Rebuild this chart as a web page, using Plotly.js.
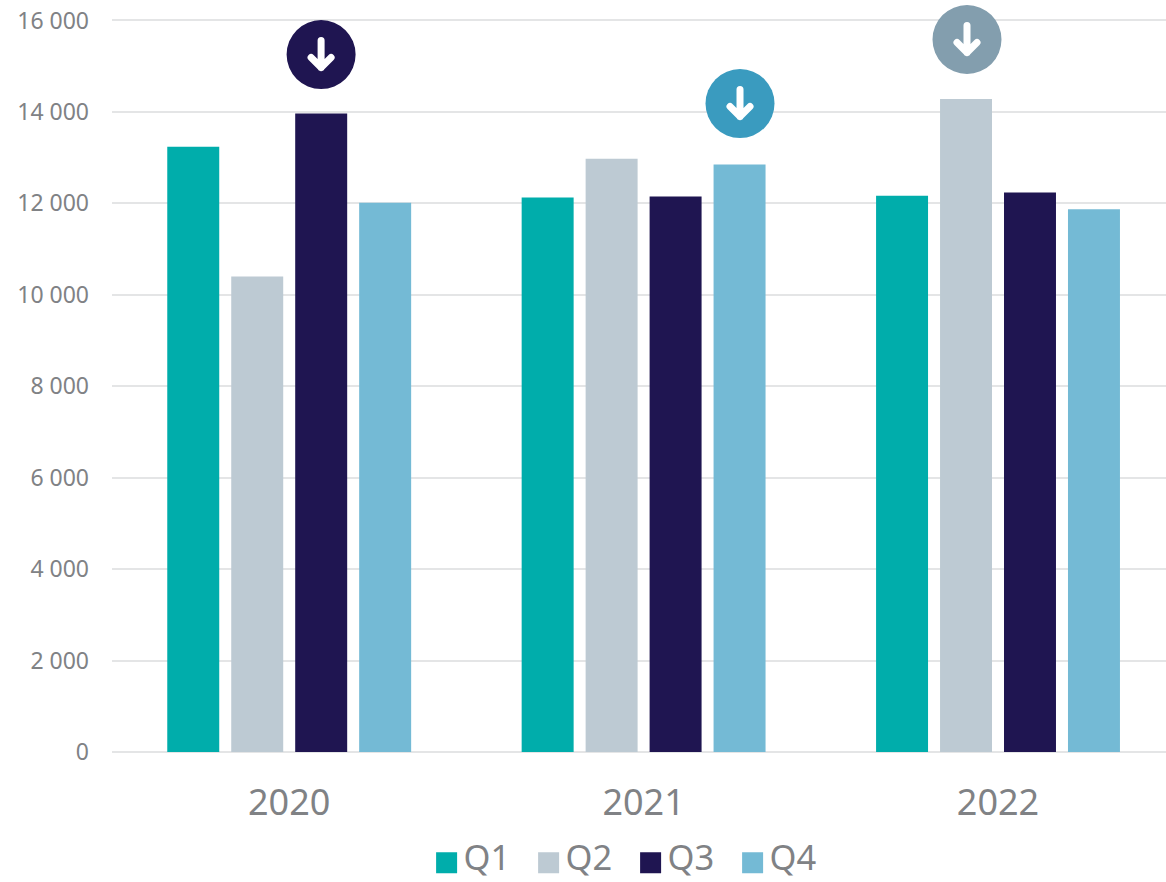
<!DOCTYPE html>
<html>
<head>
<meta charset="utf-8">
<script src="https://cdn.plot.ly/plotly-3.0.1.min.js"></script>
<style>
  html, body { margin: 0; padding: 0; background: #fff; }
  #chart { width: 1166px; height: 882px; }
  .shapelayer path { stroke-linecap: round; stroke-linejoin: round; }
</style>
</head>
<body>
<div id="chart"></div>
<script>
// Quarterly figures per year
const years = ['2020', '2021', '2022'];
const q1 = [13240, 12130, 12165];
const q2 = [10400, 12975, 14285];
const q3 = [13965, 12150, 12235];
const q4 = [12015, 12850, 11870];

const quarterNames = ['Q1', 'Q2', 'Q3', 'Q4'];
const quarterColors = ['#00adab', '#bdcad3', '#1f1551', '#74bad5'];

const yTickVals = [0, 2000, 4000, 6000, 8000, 10000, 12000, 14000, 16000];
const yTickText = ['0', '2 000', '4 000', '6 000', '8 000', '10 000', '12 000', '14 000', '16 000'];

// Down-arrow badges: category position, value position, fill
const badgeX = [0.09, 1.272, 1.9125];
const badgeY = [15255, 14183, 15584];
const badgeColors = ['#1f1551', '#3a9bbf', '#839eae'];

const textColor = '#808285';
const gridColor = '#e4e5e6';
const fontFamily = '"Noto Sans", "Open Sans", sans-serif';

const traces = [q1, q2, q3, q4].map((values, i) => ({
  type: 'bar',
  name: quarterNames[i],
  x: years,
  y: values,
  marker: { color: quarterColors[i] },
  hoverinfo: 'x+y+name'
}));

// Each badge is a circle plus a rounded arrow, anchored in data space and sized in pixels
const shapes = [];
badgeX.forEach((bx, i) => {
  const anchored = {
    xref: 'x', yref: 'y', xsizemode: 'pixel', ysizemode: 'pixel',
    xanchor: bx, yanchor: badgeY[i], layer: 'above'
  };
  shapes.push(Object.assign({}, anchored, {
    type: 'circle', x0: -34.5, x1: 34.5, y0: -34.5, y1: 34.5,
    fillcolor: badgeColors[i], line: { width: 0 }
  }));
  shapes.push(Object.assign({}, anchored, {
    type: 'path', path: 'M0,14 L0,-13 M-10,-3 L0,-13 L10,-3',
    line: { color: '#ffffff', width: 7 }
  }));
});

const layout = {
  width: 1166,
  height: 882,
  margin: { l: 112, r: 0, t: 0, b: 130 },
  paper_bgcolor: '#ffffff',
  plot_bgcolor: '#ffffff',
  font: { family: fontFamily, color: textColor },
  barmode: 'group',
  bargap: 0.278,
  bargroupgap: 0.1875,
  xaxis: {
    type: 'category',
    range: [-0.5, 2.474],
    tickfont: { size: 36, color: textColor },
    ticks: '',
    ticklabelstandoff: 26,
    showgrid: false,
    showline: false,
    zeroline: false
  },
  yaxis: {
    range: [0, 16448],
    tickmode: 'array',
    tickvals: yTickVals,
    ticktext: yTickText,
    tickfont: { size: 23, color: textColor },
    ticks: '',
    ticklabelstandoff: 22,
    gridcolor: gridColor,
    gridwidth: 2,
    zeroline: true,
    zerolinecolor: gridColor,
    zerolinewidth: 2,
    showline: false
  },
  showlegend: true,
  legend: {
    orientation: 'h',
    xref: 'container',
    yref: 'container',
    x: 0.3633,
    xanchor: 'left',
    y: 0.0615,
    yanchor: 'top',
    font: { size: 34.5, color: textColor },
    itemwidth: 30,
    entrywidth: 57,
    entrywidthmode: 'pixels',
    traceorder: 'normal',
    bgcolor: 'rgba(0,0,0,0)'
  },
  shapes: shapes
};

Plotly.newPlot('chart', traces, layout, { displayModeBar: false, responsive: false }).then(gd => {
  // Enlarge the legend swatches to suit the big legend text
  gd.querySelectorAll('.legend .legendpoints path').forEach(p => {
    p.setAttribute('transform', 'translate(23,6) scale(1.75)');
    p.style.strokeWidth = '0';
  });
});
</script>
</body>
</html>
